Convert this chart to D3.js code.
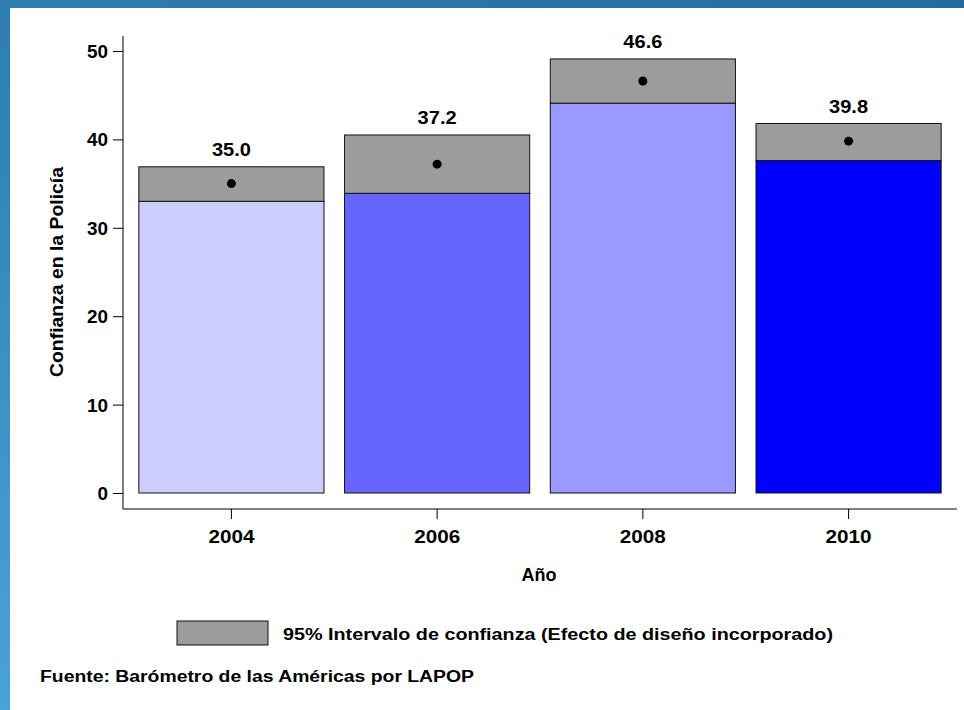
<!DOCTYPE html>
<html>
<head>
<meta charset="utf-8">
<script src="https://cdn.jsdelivr.net/npm/d3@7"></script>
<style>
  html, body { margin: 0; padding: 0; background: #fff; }
  svg { display: block; }
  text { font-family: "Liberation Sans", Arial, Helvetica, sans-serif; font-weight: bold; fill: #000; }
</style>
</head>
<body>
<svg id="chart" width="964" height="710"></svg>
<script>
// ---- Data ----
const years = ["2004", "2006", "2008", "2010"];
const means = [35.0, 37.2, 46.6, 39.8];
const ciLow = [33.0, 33.9, 44.1, 37.6];
const ciHigh = [36.9, 40.5, 49.1, 41.8];
const barColors = ["#ccccff", "#6666ff", "#9999ff", "#0000ff"];
const yTicks = [0, 10, 20, 30, 40, 50];
const yTitle = "Confianza en la Policía";
const xTitle = "Año";
const legendLabel = "95% Intervalo de confianza (Efecto de diseño incorporado)";
const sourceNote = "Fuente: Barómetro de las Américas por LAPOP";

const svg = d3.select("#chart");
const W = 964, H = 710;
const FONT = "Liberation Sans, Arial, sans-serif";

// Frame background gradient
const defs = svg.append("defs");
const grad = defs.append("linearGradient").attr("id", "frameGrad")
  .attr("x1", "0%").attr("y1", "100%").attr("x2", "100%").attr("y2", "0%");
grad.append("stop").attr("offset", "0%").attr("stop-color", "#4aa3d8");
grad.append("stop").attr("offset", "45%").attr("stop-color", "#2f80b3");
grad.append("stop").attr("offset", "100%").attr("stop-color", "#256b99");
svg.append("rect").attr("width", W).attr("height", H).attr("fill", "url(#frameGrad)");
svg.append("rect").attr("x", 10).attr("y", 8).attr("width", W - 10).attr("height", H - 8).attr("fill", "#fff");

// Scales
const x = d3.scaleBand().domain(years).range([123, 957]).paddingInner(0.1).paddingOuter(0.077);
const y = d3.scaleLinear().domain([0, 50]).range([493, 51]);

// Axes
const yAxisG = svg.append("g").attr("transform", "translate(123,0)")
  .call(d3.axisLeft(y).tickValues(yTicks).tickSize(10).tickPadding(5).tickFormat(d3.format("d")));
yAxisG.select(".domain").remove();
yAxisG.selectAll("line").attr("stroke", "#000");
svg.append("line").attr("x1", 123).attr("x2", 123).attr("y1", 36).attr("y2", 509)
  .attr("stroke", "#000").attr("stroke-width", 1);
yAxisG.selectAll("text")
  .style("font-size", "18px").style("font-family", FONT).style("font-weight", "bold")
  .attr("dy", "0.36em")
  .attr("textLength", function () { return 10.5 * this.textContent.length; })
  .attr("lengthAdjust", "spacingAndGlyphs");

const xAxisG = svg.append("g").attr("transform", "translate(0,509)")
  .call(d3.axisBottom(x).tickSize(10).tickPadding(8));
xAxisG.select(".domain").remove();
xAxisG.selectAll("line").attr("stroke", "#000");
svg.append("line").attr("x1", 123).attr("x2", 957).attr("y1", 509).attr("y2", 509)
  .attr("stroke", "#000").attr("stroke-width", 1);
xAxisG.selectAll("text")
  .style("font-size", "18.5px").style("font-family", FONT).style("font-weight", "bold")
  .attr("dy", null).attr("y", 34)
  .attr("textLength", 46).attr("lengthAdjust", "spacingAndGlyphs");

// Bars
const data = years.map((yr, i) => ({ yr, mean: means[i], lo: ciLow[i], hi: ciHigh[i], color: barColors[i] }));

svg.append("g").selectAll("rect.bar").data(data).join("rect")
  .attr("class", "bar")
  .attr("x", d => x(d.yr)).attr("width", x.bandwidth())
  .attr("y", d => y(d.lo)).attr("height", d => y(0) - y(d.lo))
  .attr("fill", d => d.color).attr("stroke", "#111").attr("stroke-width", 1);

svg.append("g").selectAll("rect.ci").data(data).join("rect")
  .attr("class", "ci")
  .attr("x", d => x(d.yr)).attr("width", x.bandwidth())
  .attr("y", d => y(d.hi)).attr("height", d => y(d.lo) - y(d.hi))
  .attr("fill", "#9c9c9c").attr("stroke", "#111").attr("stroke-width", 1);

svg.append("g").selectAll("circle").data(data).join("circle")
  .attr("cx", d => x(d.yr) + x.bandwidth() / 2).attr("cy", d => y(d.mean))
  .attr("r", 4.5).attr("fill", "#000");

svg.append("g").selectAll("text").data(data).join("text")
  .attr("x", d => x(d.yr) + x.bandwidth() / 2).attr("y", d => y(d.hi) - 10.5)
  .attr("text-anchor", "middle").style("font-size", "18px")
  .attr("textLength", 39).attr("lengthAdjust", "spacingAndGlyphs")
  .text(d => d.mean.toFixed(1));

// Titles
svg.append("text").attr("transform", "translate(63,272) rotate(-90)")
  .attr("text-anchor", "middle").style("font-size", "17.5px")
  .attr("textLength", 210).attr("lengthAdjust", "spacingAndGlyphs")
  .text(yTitle);
svg.append("text").attr("x", 539).attr("y", 581)
  .attr("text-anchor", "middle").style("font-size", "17.5px")
  .attr("textLength", 35).attr("lengthAdjust", "spacingAndGlyphs")
  .text(xTitle);

// Legend
svg.append("rect").attr("x", 177).attr("y", 621).attr("width", 91).attr("height", 24)
  .attr("fill", "#9c9c9c").attr("stroke", "#111").attr("stroke-width", 1);
svg.append("text").attr("x", 283).attr("y", 640).style("font-size", "17px")
  .attr("textLength", 550).attr("lengthAdjust", "spacingAndGlyphs")
  .text(legendLabel);

// Source
svg.append("text").attr("x", 40).attr("y", 682).style("font-size", "16px")
  .attr("textLength", 434).attr("lengthAdjust", "spacingAndGlyphs")
  .text(sourceNote);
</script>
</body>
</html>
